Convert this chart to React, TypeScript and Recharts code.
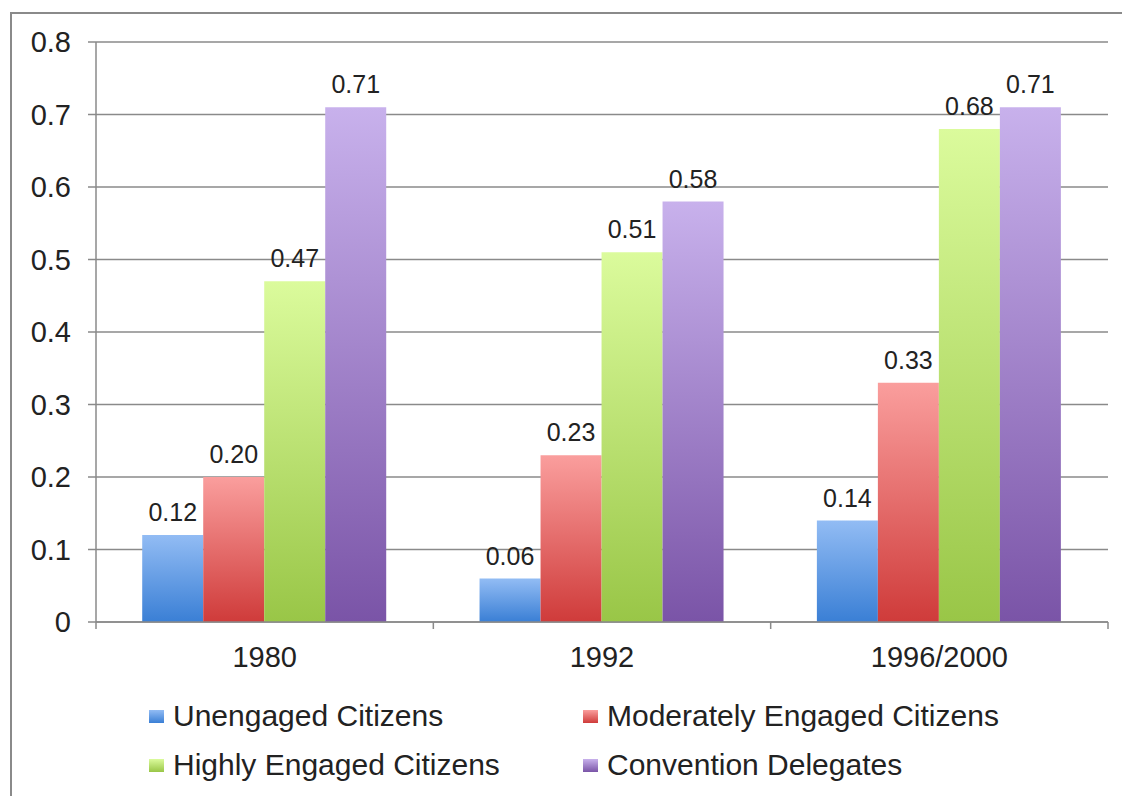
import React from 'react';
import { BarChart, Bar, XAxis, YAxis, CartesianGrid, LabelList, Legend } from 'recharts';

const categories = ['1980', '1992', '1996/2000'];
const unengaged = [0.12, 0.06, 0.14];
const moderately = [0.2, 0.23, 0.33];
const highly = [0.47, 0.51, 0.68];
const delegates = [0.71, 0.58, 0.71];
const yTicks = [0, 0.1, 0.2, 0.3, 0.4, 0.5, 0.6, 0.7, 0.8];

const series = [
  { key: 'unengaged', name: 'Unengaged Citizens', top: '#92bcf4', bottom: '#3a7fd5' },
  { key: 'moderately', name: 'Moderately Engaged Citizens', top: '#fa9e9d', bottom: '#cf3b3a' },
  { key: 'highly', name: 'Highly Engaged Citizens', top: '#dbfb9c', bottom: '#99c647' },
  { key: 'delegates', name: 'Convention Delegates', top: '#c8b1ec', bottom: '#7a54a7' },
];

const data = categories.map((c, i) => ({
  category: c,
  unengaged: unengaged[i],
  moderately: moderately[i],
  highly: highly[i],
  delegates: delegates[i],
}));

const FONT = '"Liberation Sans", Arial, sans-serif';
const AXIS = '#8a8a8a';

const XTick = (props: any) => {
  const { x, y, payload, index } = props;
  const off = payload && typeof payload.offset === 'number' ? payload.offset : 0;
  return (
    <g>
      {off > 0 && <line x1={x - off} x2={x - off} y1={y} y2={y + 7} stroke={AXIS} strokeWidth={1.5} />}
      {off > 0 && index === categories.length - 1 && (
        <line x1={x + off} x2={x + off} y1={y} y2={y + 7} stroke={AXIS} strokeWidth={1.5} />
      )}
      <text x={x} y={y + 45} textAnchor="middle" fontSize={29} fill="#222" fontFamily={FONT}>
        {payload.value}
      </text>
    </g>
  );
};

const legendCols = [149, 583];
const legendRows = [44, 93];

const LegendContent = () => (
  <div style={{ position: 'relative', width: 1122, height: 124 }}>
    {series.map((s, i) => (
      <div
        key={s.key}
        style={{
          position: 'absolute',
          left: legendCols[i % 2],
          top: legendRows[Math.floor(i / 2)] - 17,
          height: 34,
          display: 'flex',
          alignItems: 'center',
          whiteSpace: 'nowrap',
        }}
      >
        <span
          style={{
            display: 'inline-block',
            width: 15,
            height: 13,
            marginRight: 9,
            background: `linear-gradient(${s.top}, ${s.bottom})`,
          }}
        />
        <span style={{ fontFamily: FONT, fontSize: 30, color: '#222', lineHeight: '34px' }}>{s.name}</span>
      </div>
    ))}
  </div>
);

export default function App() {
  return (
    <div
      style={{
        position: 'absolute',
        left: 0,
        top: 0,
        width: 1122,
        height: 796,
        overflow: 'hidden',
        background: '#fff',
      }}
    >
      <div
        style={{
          position: 'absolute',
          left: 10,
          top: 12,
          width: 1200,
          height: 900,
          borderLeft: `2px solid ${AXIS}`,
          borderTop: `2px solid ${AXIS}`,
        }}
      />
      <BarChart
        width={1122}
        height={796}
        data={data}
        margin={{ top: 42, right: 14, left: 16, bottom: 0 }}
        barCategoryGap="13.7%"
        barGap={0}
        style={{ position: 'absolute', left: 0, top: 0 }}
      >
        <defs>
          {series.map((s) => (
            <linearGradient key={s.key} id={`grad-${s.key}`} x1="0" y1="0" x2="0" y2="1">
              <stop offset="0%" stopColor={s.top} />
              <stop offset="100%" stopColor={s.bottom} />
            </linearGradient>
          ))}
        </defs>
        <CartesianGrid vertical={false} stroke={AXIS} strokeWidth={1.5} />
        <XAxis
          dataKey="category"
          height={50}
          axisLine={{ stroke: AXIS, strokeWidth: 1.5 }}
          tickLine={false}
          tickSize={0}
          tickMargin={0}
          tick={<XTick />}
          interval={0}
        />
        <YAxis
          width={80}
          domain={[0, 0.8]}
          ticks={yTicks}
          interval={0}
          axisLine={{ stroke: AXIS, strokeWidth: 1.5 }}
          tickLine={{ stroke: AXIS, strokeWidth: 1.5 }}
          tickSize={8}
          tickMargin={17}
          tickFormatter={(v: number) => (v === 0 ? '0' : v.toFixed(1))}
          tick={{ fontSize: 29, fill: '#222', fontFamily: FONT }}
        />
        <Legend verticalAlign="bottom" height={124} wrapperStyle={{ left: 0, bottom: 0, width: 1122 }} content={<LegendContent />} />
        {series.map((s) => (
          <Bar key={s.key} dataKey={s.key} name={s.name} fill={`url(#grad-${s.key})`} isAnimationActive={false}>
            <LabelList
              dataKey={s.key}
              position="top"
              offset={14}
              formatter={(v: any) => Number(v).toFixed(2)}
              style={{ fontSize: 25, fill: '#222', fontFamily: FONT }}
            />
          </Bar>
        ))}
      </BarChart>
    </div>
  );
}
